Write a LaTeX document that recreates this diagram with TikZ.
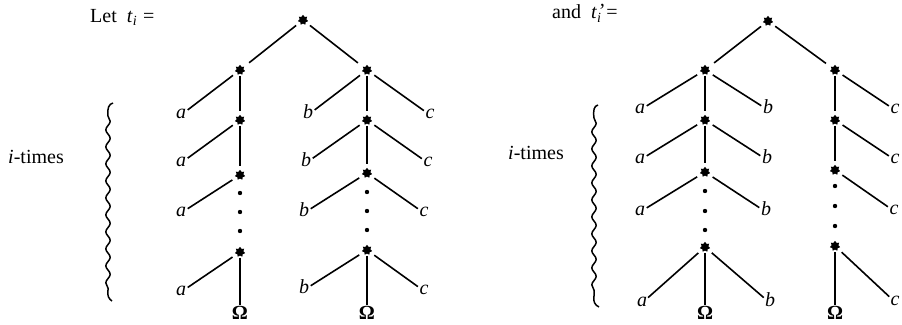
\documentclass[tikz,border=0pt]{standalone}
\usepackage{fontspec}
\setmainfont{Liberation Serif}
\usetikzlibrary{shapes.geometric,decorations.pathmorphing}
\tikzset{
  st/.style={star, star points=7, star point ratio=1.5, fill=black, draw=none, inner sep=0pt, minimum size=10.5pt, outer sep=2pt},
  lf/.style={font=\fontsize{20}{24}\selectfont\itshape, inner sep=1.5pt, text height=1.6ex, text depth=0pt},
  om/.style={font=\fontsize{20}{24}\selectfont\bfseries, inner sep=1pt},
  tx/.style={font=\fontsize{20}{24}\selectfont, inner sep=0pt},
  dt/.style={circle, fill=black, inner sep=0pt, minimum size=4.4pt},
  ed/.style={line width=1.6pt},
  lg/.style={line width=1.6pt, shorten <=3pt},
  ss/.style={line width=1.6pt, shorten <=3pt, shorten >=3pt},
  br/.style={line width=1.5pt},
  wave/.style={br, decorate, decoration={snake, amplitude=2.2pt, segment length=17pt}}
}
\begin{document}
\begin{tikzpicture}[x=1pt,y=-1pt]
\useasboundingbox (0,0) rectangle (902,324);

% ---------- titles ----------
\node[tx, anchor=base west] (let) at (90,22) {Let\ \ \textit{t}\textsubscript{\textit{i}}\hspace{6pt}=};
\node[tx, anchor=base west] (and) at (552,19) {and\ \ \textit{t}\rlap{\hspace{0.5pt}\raisebox{0.06em}{\textit{’}}}\textsubscript{\textit{i}}\hspace{5pt}=};

% ---------- i-times and braces ----------
\node[tx] (it1) at (36,157) {\textit{i}-times};
\node[tx] (it2) at (536,153) {\textit{i}-times};

\draw[br] (113,103) .. controls (109,104) and (107,108) .. (108,116);
\draw[wave] (108,116) -- (108,290);
\draw[br] (108,290) .. controls (107,296) and (109,299) .. (112,301);

\draw[br] (598,105) .. controls (594,106) and (593,110) .. (594,118);
\draw[wave] (594,118) -- (594,296);
\draw[br] (594,296) .. controls (593,302) and (595,305) .. (599,307);

% ================= left tree =================
\node[st] (R1) at (303,20) {};
\node[st] (A1) at (240,70) {};
\node[st] (B1) at (367,70) {};
\node[st] (A2) at (240,120) {};
\node[st] (B2) at (367,120) {};
\node[st] (A3) at (240,175) {};
\node[st] (B3) at (367,173) {};
\node[st] (A4) at (240,252) {};
\node[st] (B4) at (367,250) {};

\node[dt] (Ad1) at (240,193) {};
\node[dt] (Ad2) at (240,212) {};
\node[dt] (Ad3) at (240,231) {};
\node[dt] (Bd1) at (367,192) {};
\node[dt] (Bd2) at (367,211) {};
\node[dt] (Bd3) at (367,230) {};

\node[lf] (a1) at (181,115) {a};
\node[lf] (a2) at (181,163) {a};
\node[lf] (a3) at (181,213) {a};
\node[lf] (a4) at (181,292) {a};
\node[om] (OA) at (240,313) {Ω};

\node[lf] (b1) at (308,115) {b};
\node[lf] (c1) at (430,115) {c};
\node[lf] (b2) at (306,163) {b};
\node[lf] (c2) at (428,163) {c};
\node[lf] (b3) at (304,213) {b};
\node[lf] (c3) at (424,213) {c};
\node[lf] (b4) at (304,290) {b};
\node[lf] (c4) at (424,291) {c};
\node[om] (OB) at (367,313) {Ω};

\draw[ss] (R1) -- (A1);
\draw[ss] (R1) -- (B1);
\draw[lg] (A1) -- (a1);  \draw[ed] (A1) -- (A2);
\draw[lg] (A2) -- (a2);  \draw[ed] (A2) -- (A3);
\draw[lg] (A3) -- (a3);
\draw[lg] (A4) -- (a4);  \draw[ed] (A4) -- (OA);
\draw[lg] (B1) -- (b1);  \draw[lg] (B1) -- (c1);  \draw[ed] (B1) -- (B2);
\draw[lg] (B2) -- (b2);  \draw[lg] (B2) -- (c2);  \draw[ed] (B2) -- (B3);
\draw[lg] (B3) -- (b3);  \draw[lg] (B3) -- (c3);
\draw[lg] (B4) -- (b4);  \draw[lg] (B4) -- (c4);  \draw[ed] (B4) -- (OB);

% ================= right tree =================
\node[st] (R2) at (768,21) {};
\node[st] (C1) at (705,70) {};
\node[st] (D1) at (835,70) {};
\node[st] (C2) at (705,120) {};
\node[st] (D2) at (835,120) {};
\node[st] (C3) at (705,172) {};
\node[st] (D3) at (835,170) {};
\node[st] (C4) at (705,247) {};
\node[st] (D4) at (835,246) {};

\node[dt] (Cd1) at (705,191) {};
\node[dt] (Cd2) at (705,211) {};
\node[dt] (Cd3) at (705,230) {};
\node[dt] (Dd1) at (835,186) {};
\node[dt] (Dd2) at (835,206) {};
\node[dt] (Dd3) at (835,226) {};

\node[lf] (pa1) at (640,110) {a};
\node[lf] (pb1) at (768,110) {b};
\node[lf] (pc1) at (895,110) {c};
\node[lf] (pa2) at (640,160) {a};
\node[lf] (pb2) at (767,160) {b};
\node[lf] (pc2) at (895,160) {c};
\node[lf] (pa3) at (640,212) {a};
\node[lf] (pb3) at (766,212) {b};
\node[lf] (pc3) at (894,211) {c};
\node[lf] (pa4) at (642,303) {a};
\node[lf] (pb4) at (770,303) {b};
\node[om] (OC) at (705,313) {Ω};
\node[om] (OD) at (835,313) {Ω};
\node[lf] (pc4) at (895,302) {c};

\draw[ss] (R2) -- (C1);
\draw[ss] (R2) -- (D1);
\draw[lg] (C1) -- (pa1);  \draw[lg] (C1) -- (pb1);  \draw[ed] (C1) -- (C2);
\draw[lg] (C2) -- (pa2);  \draw[lg] (C2) -- (pb2);  \draw[ed] (C2) -- (C3);
\draw[lg] (C3) -- (pa3);  \draw[lg] (C3) -- (pb3);
\draw[lg] (C4) -- (pa4);  \draw[lg] (C4) -- (pb4);  \draw[ed] (C4) -- (OC);
\draw[lg] (D1) -- (pc1);  \draw[ed] (D1) -- (D2);
\draw[lg] (D2) -- (pc2);  \draw[ed] (D2) -- (D3);
\draw[lg] (D3) -- (pc3);
\draw[lg] (D4) -- (pc4);  \draw[ed] (D4) -- (OD);
\end{tikzpicture}
\end{document}
